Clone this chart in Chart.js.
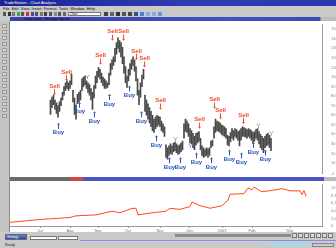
<!DOCTYPE html>
<html>
<head>
<meta charset="utf-8">
<script src="https://cdn.jsdelivr.net/npm/chart.js@4.4.0/dist/chart.umd.min.js"></script>
<style>
  body { margin: 0; background: #c8c8c8; }
  #win { position: relative; width: 336px; height: 248px; overflow: hidden; background: #cacaca;
         font-family: "Liberation Sans", Arial, sans-serif; }
  #win div, #win canvas { position: absolute; box-sizing: border-box; }
  #title { left: 0; top: 0; width: 336px; height: 6px; background: linear-gradient(90deg, #1a2494, #2e3cb4 55%, #2a3aae);
           color: #fff; font-size: 4px; line-height: 6px; padding-left: 4px; white-space: nowrap; }
  #menu { left: 0; top: 6px; width: 336px; height: 5px; font-size: 4px; line-height: 5px; padding-left: 3px; color: #111; white-space: nowrap; }
  #toolbar { left: 0; top: 11px; width: 336px; height: 6px; }
  #combo { left: 68px; top: 12px; width: 33px; height: 4px; background: #fff; border: 1px solid #777; font-size: 3px; line-height: 3px; padding-left: 1px; }
  #child { left: 10px; top: 17px; width: 310px; height: 4px; background: linear-gradient(90deg, #3a3fb0, #4250c4 70%, #3c4ab8);
           color: #102; font-size: 3.5px; line-height: 4px; padding-left: 14px; white-space: nowrap; }
  #childbtn { left: 320px; top: 17px; width: 16px; height: 4px; background: #bdbdbd; border-left: 1px solid #888; }
  #left { left: 0; top: 21px; width: 10px; height: 211px; background: #c4c4c4; border-right: 1px solid #8a8a8a; }
  #price { left: 10px; top: 21px; background: #fff; }
  #sep { left: 10px; top: 177px; width: 326px; height: 4px; background: linear-gradient(90deg, #6a6a6a 0 60px, #d24a3e 60px 73px, #4a54c6 73px 314px, #bcbcbc 314px); }
  #equity { left: 10px; top: 181px; background: #fff; }
  #scroll { left: 175px; top: 234px; width: 116px; height: 3px; background: #8c8c8c; }
  #navbtns { left: 292px; top: 233px; width: 44px; height: 5px; }
  #line { left: 80px; top: 240px; width: 256px; height: 1px; background: #8a8ee8; }
  #strat { left: 5px; top: 234px; width: 22px; height: 6px; background: linear-gradient(#5a7ec8, #2f4f9e); border: 1px solid #667; color: #fff; font-size: 3px; line-height: 4px; padding-left: 1px; }
  .cb { top: 236px; height: 4px; background: #fff; border: 1px solid #777; }
  #status { left: 0; top: 242px; width: 336px; height: 6px; font-size: 3.5px; line-height: 6px; padding-left: 5px; color: #222; }
  #prog { left: 270px; top: 243px; width: 40px; height: 3px; background: #9fe0e8; }
  #stbox { left: 312px; top: 243px; width: 22px; height: 4px; border: 1px solid #888; }
</style>
</head>
<body>
<div id="win">
  <div id="title">TradeStation - Chart Analysis</div>
  <div id="menu">File &nbsp;Edit &nbsp;View &nbsp;Insert &nbsp;Format &nbsp;Tools &nbsp;Window &nbsp;Help</div>
  <div id="toolbar"></div>
  <div id="combo">Chart</div>
  <div id="child">Daily Chart - Strategy Signals</div>
  <div id="childbtn"></div>
  <div id="left"></div>
  <canvas id="price" width="326" height="156"></canvas>
  <div id="sep"></div>
  <canvas id="equity" width="326" height="51"></canvas>
  <div id="strat">Strategy</div>
  <div class="cb" style="left:30px;width:27px"></div>
  <div class="cb" style="left:58px;width:20px"></div>
  <div id="scroll"></div>
  <div id="navbtns"></div>
  <div id="line"></div>
  <div id="status">Ready</div>
  <div id="prog"></div>
  <div id="stbox"></div>
</div>
<script>
// price bars (high / low per bar)
const barHighs = [76, 79, 81, 76, 73, 70, 74, 78, 84, 90, 94, 96, 94, 96, 103, 86, 78, 71, 82, 84,
  86, 98, 100, 101, 96, 94, 92, 88, 84, 91, 101, 106, 110, 108, 104, 100, 98, 96, 94, 104,
  114, 118, 121, 130, 136, 141, 138, 136, 131, 121, 111, 101, 108, 114, 118, 121, 118, 111, 98, 86,
  94, 102, 108, 81, 76, 72, 68, 64, 60, 56, 58, 60, 59, 58, 54, 51, 48, 29, 26, 28,
  30, 28, 31, 32, 30, 28, 29, 31, 33, 51, 56, 54, 51, 46, 44, 41, 38, 41, 42, 43,
  36, 28, 26, 24, 26, 25, 26, 33, 34, 48, 56, 54, 53, 52, 50, 49, 48, 46, 39, 38,
  42, 46, 44, 46, 45, 43, 44, 46, 48, 47, 46, 45, 46, 45, 44, 42, 43, 45, 46, 43,
  40, 38, 36, 38, 40, 41, 39, 36];
const barLows = [61, 68, 71, 66, 62, 58, 64, 70, 76, 81, 86, 88, 86, 88, 92, 74, 61, 56, 72, 74,
  76, 86, 90, 92, 88, 84, 81, 76, 66, 78, 88, 94, 100, 98, 94, 91, 88, 88, 89, 92,
  102, 108, 112, 116, 124, 130, 126, 121, 114, 104, 94, 89, 96, 102, 108, 112, 106, 96, 81, 71,
  79, 90, 98, 64, 60, 56, 52, 48, 44, 42, 46, 48, 50, 48, 44, 42, 38, 16, 14, 18,
  20, 19, 22, 23, 21, 19, 20, 22, 24, 36, 43, 42, 38, 31, 30, 26, 24, 29, 31, 33,
  24, 18, 16, 17, 18, 16, 18, 26, 28, 36, 42, 44, 43, 42, 40, 39, 38, 36, 29, 28,
  32, 36, 34, 38, 36, 34, 28, 34, 38, 38, 37, 36, 38, 36, 34, 31, 33, 36, 34, 30,
  26, 24, 21, 26, 28, 29, 26, 23];

// strategy signals: bar index and the price level of the arrow
const sellBars = [2, 10, 33, 41, 48, 57, 62, 73, 99, 109, 113, 128];
const sellLevels = [84, 99, 116, 141, 141, 121, 113, 69, 49, 70, 59, 54];
const buyBars = [5, 19, 29, 39, 52, 60, 70, 79, 86, 97, 107, 119, 127, 135, 143];
const buyLevels = [49, 71, 61, 79, 88, 61, 36, 13, 13, 18, 13, 21, 18, 29, 21];
const exitBars = [24, 83, 93, 138, 147];
const exitLevels = [100, 35, 28, 49, 41];

// equity curve
const equityBars = [-1, 14, 29, 32, 42, 50, 54, 60, 62, 63, 69, 77, 79, 84, 89, 90, 94, 99, 105, 108,
  109, 116, 118, 120, 121, 125, 132, 135, 139, 144, 145, 146, 147];
const equityValues = [1000, 1750, 2300, 2750, 3000, 4000, 3600, 4750, 4800, 3000, 3500, 4000, 4800, 4500, 5250, 6500, 5500, 4800, 5500, 7000,
  8600, 8750, 10250, 9800, 10500, 9250, 9800, 10100, 9500, 9500, 8500, 9600, 8000];

// date axis
const dateTickBars = [14, 29, 43, 58, 74, 89, 105, 120, 139];
const dateTickLabels = ['Jul', 'Aug', 'Sep', 'Oct', 'Nov', 'Dec', '2003', 'Feb', 'Mar'];

// window chrome icons
const tb = document.getElementById('toolbar');
const iconCols = ['#555', '#333', '#777', '#3a5', '#555', '#c33', '#35a', '#555', '#777', '#444', '#555', '#888', '#555', '#666'];
iconCols.forEach((c, k) => {
  const d = document.createElement('div');
  d.style.cssText = `left:${3 + k * 4.6}px;top:1px;width:3px;height:4px;background:${c}`;
  tb.appendChild(d);
});
['#444', '#666', '#333', '#555', '#444', '#357', '#57c', '#8ad', '#8ad', '#69c'].forEach((c, k) => {
  const d = document.createElement('div');
  d.style.cssText = `left:${104 + k * 6}px;top:1px;width:4px;height:4px;background:${c}`;
  tb.appendChild(d);
});
const lt = document.getElementById('left');
for (let k = 0; k < 16; k++) {
  const d = document.createElement('div');
  d.style.cssText = `left:2px;top:${3 + k * 6}px;width:5px;height:4px;border:1px solid #999;background:#d8d8d8`;
  lt.appendChild(d);
}
const nb = document.getElementById('navbtns');
for (let k = 0; k < 7; k++) {
  const d = document.createElement('div');
  d.style.cssText = `left:${k * 6}px;top:0;width:5px;height:5px;border:1px solid #777;background:#ddd`;
  nb.appendChild(d);
}

function drawArrow(ctx, x, y, dir, color) {
  ctx.strokeStyle = color;
  ctx.fillStyle = color;
  ctx.lineWidth = 1;
  ctx.beginPath();
  ctx.moveTo(x, y - 3 * dir);
  ctx.lineTo(x, y + dir);
  ctx.stroke();
  ctx.beginPath();
  ctx.moveTo(x - 1.5, y + dir);
  ctx.lineTo(x + 1.5, y + dir);
  ctx.lineTo(x, y + 3 * dir);
  ctx.closePath();
  ctx.fill();
}

const signalPlugin = {
  id: 'signals',
  afterDatasetsDraw(chart) {
    const { ctx, scales: { x, y } } = chart;
    ctx.save();
    ctx.font = 'bold 6px "Liberation Sans", Arial, sans-serif';
    ctx.textAlign = 'center';
    sellBars.forEach((b, k) => {
      const px = Math.round(x.getPixelForValue(b)) + 0.5;
      const py = y.getPixelForValue(sellLevels[k]);
      drawArrow(ctx, px, py, 1, '#f2472a');
      ctx.textBaseline = 'bottom';
      ctx.fillText('Sell', px, py - 3);
    });
    buyBars.forEach((b, k) => {
      const px = Math.round(x.getPixelForValue(b)) + 0.5;
      const py = y.getPixelForValue(buyLevels[k]);
      drawArrow(ctx, px, py, -1, '#2456b8');
      ctx.textBaseline = 'top';
      ctx.fillText('Buy', px, py + 4);
    });
    ctx.strokeStyle = '#b88ad8';
    exitBars.forEach((b, k) => {
      const px = Math.round(x.getPixelForValue(b)) + 0.5;
      const py = y.getPixelForValue(exitLevels[k]);
      ctx.beginPath();
      ctx.moveTo(px - 2, py - 2);
      ctx.lineTo(px, py);
      ctx.lineTo(px + 2, py - 2);
      ctx.moveTo(px, py);
      ctx.lineTo(px, py + 2);
      ctx.stroke();
    });
    ctx.restore();
  }
};

const axisFont = { size: 4, family: 'Liberation Sans' };

new Chart(document.getElementById('price'), {
  type: 'bar',
  data: {
    datasets: [{
      data: barHighs.map((h, i) => ({ x: i, y: [barLows[i], h] })),
      backgroundColor: '#484848',
      barThickness: 1,
      grouped: false
    }]
  },
  options: {
    responsive: false,
    animation: false,
    layout: { padding: 0 },
    plugins: { legend: { display: false }, tooltip: { enabled: false } },
    scales: {
      x: { type: 'linear', min: -1, max: 155, display: false },
      y: {
        position: 'right', min: -1, max: 155,
        grid: { display: false },
        border: { display: true, color: '#999' },
        ticks: { stepSize: 5, font: axisFont, color: '#888', padding: 1 },
        afterFit: s => { s.width = 14; }
      }
    }
  },
  plugins: [signalPlugin]
});

new Chart(document.getElementById('equity'), {
  type: 'line',
  data: {
    datasets: [{
      data: equityBars.map((b, i) => ({ x: b, y: equityValues[i] })),
      borderColor: '#ff4a1e',
      borderWidth: 1,
      pointRadius: 0,
      tension: 0
    }]
  },
  options: {
    responsive: false,
    animation: false,
    layout: { padding: 0 },
    plugins: { legend: { display: false }, tooltip: { enabled: false } },
    scales: {
      x: {
        type: 'linear', min: -1, max: 155,
        grid: { drawOnChartArea: false, tickLength: 2, color: '#999' },
        border: { display: true, color: '#999' },
        afterBuildTicks: s => { s.ticks = dateTickBars.map(v => ({ value: v })); },
        ticks: { autoSkip: false, maxRotation: 0, font: axisFont, color: '#777', padding: 0,
                 callback: (v, i) => dateTickLabels[i] },
        afterFit: s => { s.height = 6; }
      },
      y: {
        position: 'right', min: 0, max: 11250,
        grid: { display: false },
        border: { display: true, color: '#999' },
        ticks: { stepSize: 1000, font: axisFont, color: '#888', padding: 1 },
        afterFit: s => { s.width = 14; }
      }
    }
  }
});
</script>
</body>
</html>
